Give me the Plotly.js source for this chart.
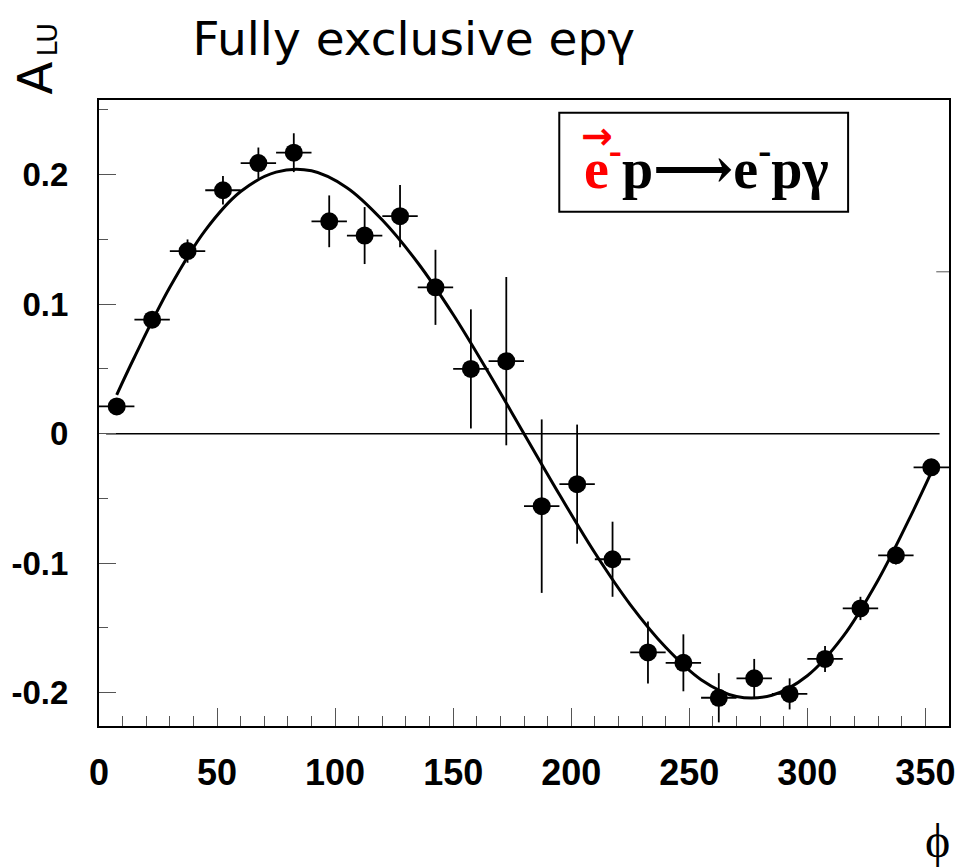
<!DOCTYPE html>
<html>
<head>
<meta charset="utf-8">
<script src="https://cdn.plot.ly/plotly-3.0.1.min.js"></script>
<style>html,body{margin:0;padding:0;background:#fff;}#chart{width:958px;height:867px;}</style>
</head>
<body>
<div id="chart"></div>
<script>
// Data points: phi bin centres, asymmetry, statistical errors, bin half-width
const phi = [7.5, 22.5, 37.5, 52.5, 67.5, 82.5, 97.5, 112.5, 127.5, 142.5, 157.5, 172.5,
             187.5, 202.5, 217.5, 232.5, 247.5, 262.5, 277.5, 292.5, 307.5, 322.5, 337.5, 352.5];
const alu = [0.021, 0.088, 0.141, 0.188, 0.209, 0.217, 0.164, 0.153, 0.168, 0.113, 0.050, 0.056,
             -0.056, -0.039, -0.097, -0.169, -0.177, -0.204, -0.189, -0.201, -0.174, -0.135, -0.094, -0.026];
const aluErr = [0.005, 0.006, 0.009, 0.011, 0.012, 0.015, 0.020, 0.022, 0.024, 0.029, 0.046, 0.065,
                0.067, 0.046, 0.029, 0.024, 0.022, 0.019, 0.015, 0.012, 0.010, 0.009, 0.007, 0.005];
const phiHalfWidth = [7.5, 7.5, 7.5, 7.5, 7.5, 7.5, 7.5, 7.5, 7.5, 7.5, 7.5, 7.5,
                      7.5, 7.5, 7.5, 7.5, 7.5, 7.5, 7.5, 7.5, 7.5, 7.5, 7.5, 7.5];

// Fit curve
const fitPhi = [7.5, 15, 30, 45, 60, 75, 90, 105, 120, 135, 150, 165, 180,
                195, 210, 225, 240, 255, 270, 285, 300, 315, 330, 345, 352.5];
const fitVal = [0.030, 0.059, 0.113, 0.157, 0.187, 0.202, 0.203, 0.190, 0.165, 0.132, 0.092, 0.047, 0.0,
                -0.047, -0.092, -0.132, -0.165, -0.190, -0.203, -0.202, -0.187, -0.157, -0.113, -0.059, -0.030];

// Zero reference line extent
const zeroLineX = [3, 356];

const xTickVals = [0, 50, 100, 150, 200, 250, 300, 350];
const yTickVals = [-0.2, -0.1, 0, 0.1, 0.2];
const yTickText = ['-0.2', '-0.1', '0', '0.1', '0.2'];

const traces = [
  {
    x: zeroLineX, y: [0, 0], mode: 'lines', type: 'scatter',
    line: {color: '#000', width: 1.5}, hoverinfo: 'skip', showlegend: false
  },
  {
    x: fitPhi, y: fitVal, mode: 'lines', type: 'scatter',
    line: {color: '#000', width: 3, shape: 'spline', smoothing: 1},
    showlegend: false
  },
  {
    x: phi, y: alu, mode: 'markers', type: 'scatter',
    marker: {color: '#000', size: 18, symbol: 'circle'},
    error_y: {type: 'data', array: aluErr, visible: true, color: '#000', thickness: 1.8, width: 0},
    error_x: {type: 'data', array: phiHalfWidth, visible: true, color: '#000', thickness: 1.8, width: 0},
    showlegend: false
  }
];

const layout = {
  width: 958, height: 867,
  margin: {l: 98.7, r: 8.7, t: 100, b: 141, pad: 0},
  paper_bgcolor: '#fff', plot_bgcolor: '#fff',
  showlegend: false,
  title: {
    text: 'Fully exclusive epγ',
    font: {family: 'DejaVu Sans', size: 47, color: '#000'},
    x: 0.432, xanchor: 'center', xref: 'container',
    y: 0.955, yanchor: 'middle', yref: 'container'
  },
  xaxis: {
    range: [0, 360], showgrid: false, zeroline: false,
    showline: true, linewidth: 2, linecolor: '#000', mirror: true,
    ticks: 'inside', ticklen: 18, tickwidth: 1, tickcolor: '#555',
    tickvals: xTickVals,
    tickfont: {family: 'Liberation Sans', size: 36, color: '#000', weight: 'bold'},
    ticklabelstandoff: 14,
    minor: {dtick: 10, ticks: 'inside', ticklen: 10, tickwidth: 1, tickcolor: '#555', showgrid: false}
  },
  yaxis: {
    range: [-0.2258, 0.2577], showgrid: false, zeroline: false,
    showline: true, linewidth: 2, linecolor: '#000', mirror: true,
    ticks: 'inside', ticklen: 17, tickwidth: 1, tickcolor: '#555',
    tickvals: yTickVals, ticktext: yTickText,
    tickfont: {family: 'Liberation Sans', size: 33, color: '#000', weight: 'bold'},
    ticklabelstandoff: 22,
    minor: {dtick: 0.05, ticks: 'inside', ticklen: 9, tickwidth: 1, tickcolor: '#555', showgrid: false}
  },
  shapes: [
    {type: 'rect', xref: 'paper', yref: 'paper', x0: 0.5415, x1: 0.8813, y0: 0.8216, y1: 0.9797,
     line: {color: '#000', width: 2}, fillcolor: 'rgba(0,0,0,0)'},
    {type: 'line', xref: 'paper', yref: 'y', x0: 0.985, x1: 1, y0: 0.125, y1: 0.125,
     line: {color: '#555', width: 1}}
  ],
  annotations: [
    {text: 'A', xref: 'paper', yref: 'paper', x: -0.0749, y: 1.035, textangle: -90,
     showarrow: false, xanchor: 'center', yanchor: 'middle',
     font: {family: 'DejaVu Sans', size: 48, color: '#000'}},
    {text: 'LU', xref: 'paper', yref: 'paper', x: -0.0605, y: 1.096, textangle: -90,
     showarrow: false, xanchor: 'center', yanchor: 'middle',
     font: {family: 'DejaVu Sans', size: 27, color: '#000'}},
    {text: 'ϕ', xref: 'paper', yref: 'paper', x: 0.9867, y: -0.1837,
     showarrow: false, xanchor: 'center', yanchor: 'middle',
     font: {family: 'Liberation Serif', size: 48, color: '#000'}},
    {text: '<span style="color:#ff0000">e<sup>-</sup></span>p⟶e<sup>-</sup>pγ',
     xref: 'paper', yref: 'paper', x: 0.7142, y: 0.897,
     showarrow: false, xanchor: 'center', yanchor: 'middle',
     font: {family: 'Liberation Serif, DejaVu Serif', size: 56, color: '#000', weight: 'bold'}},
    {text: '→', xref: 'paper', yref: 'paper', x: 0.5855, y: 0.942,
     showarrow: false, xanchor: 'center', yanchor: 'middle',
     font: {family: 'DejaVu Sans', size: 38, color: '#ff0000', weight: 'bold'}}
  ]
};

Plotly.newPlot('chart', traces, layout, {displayModeBar: false, staticPlot: true});
</script>
</body>
</html>
